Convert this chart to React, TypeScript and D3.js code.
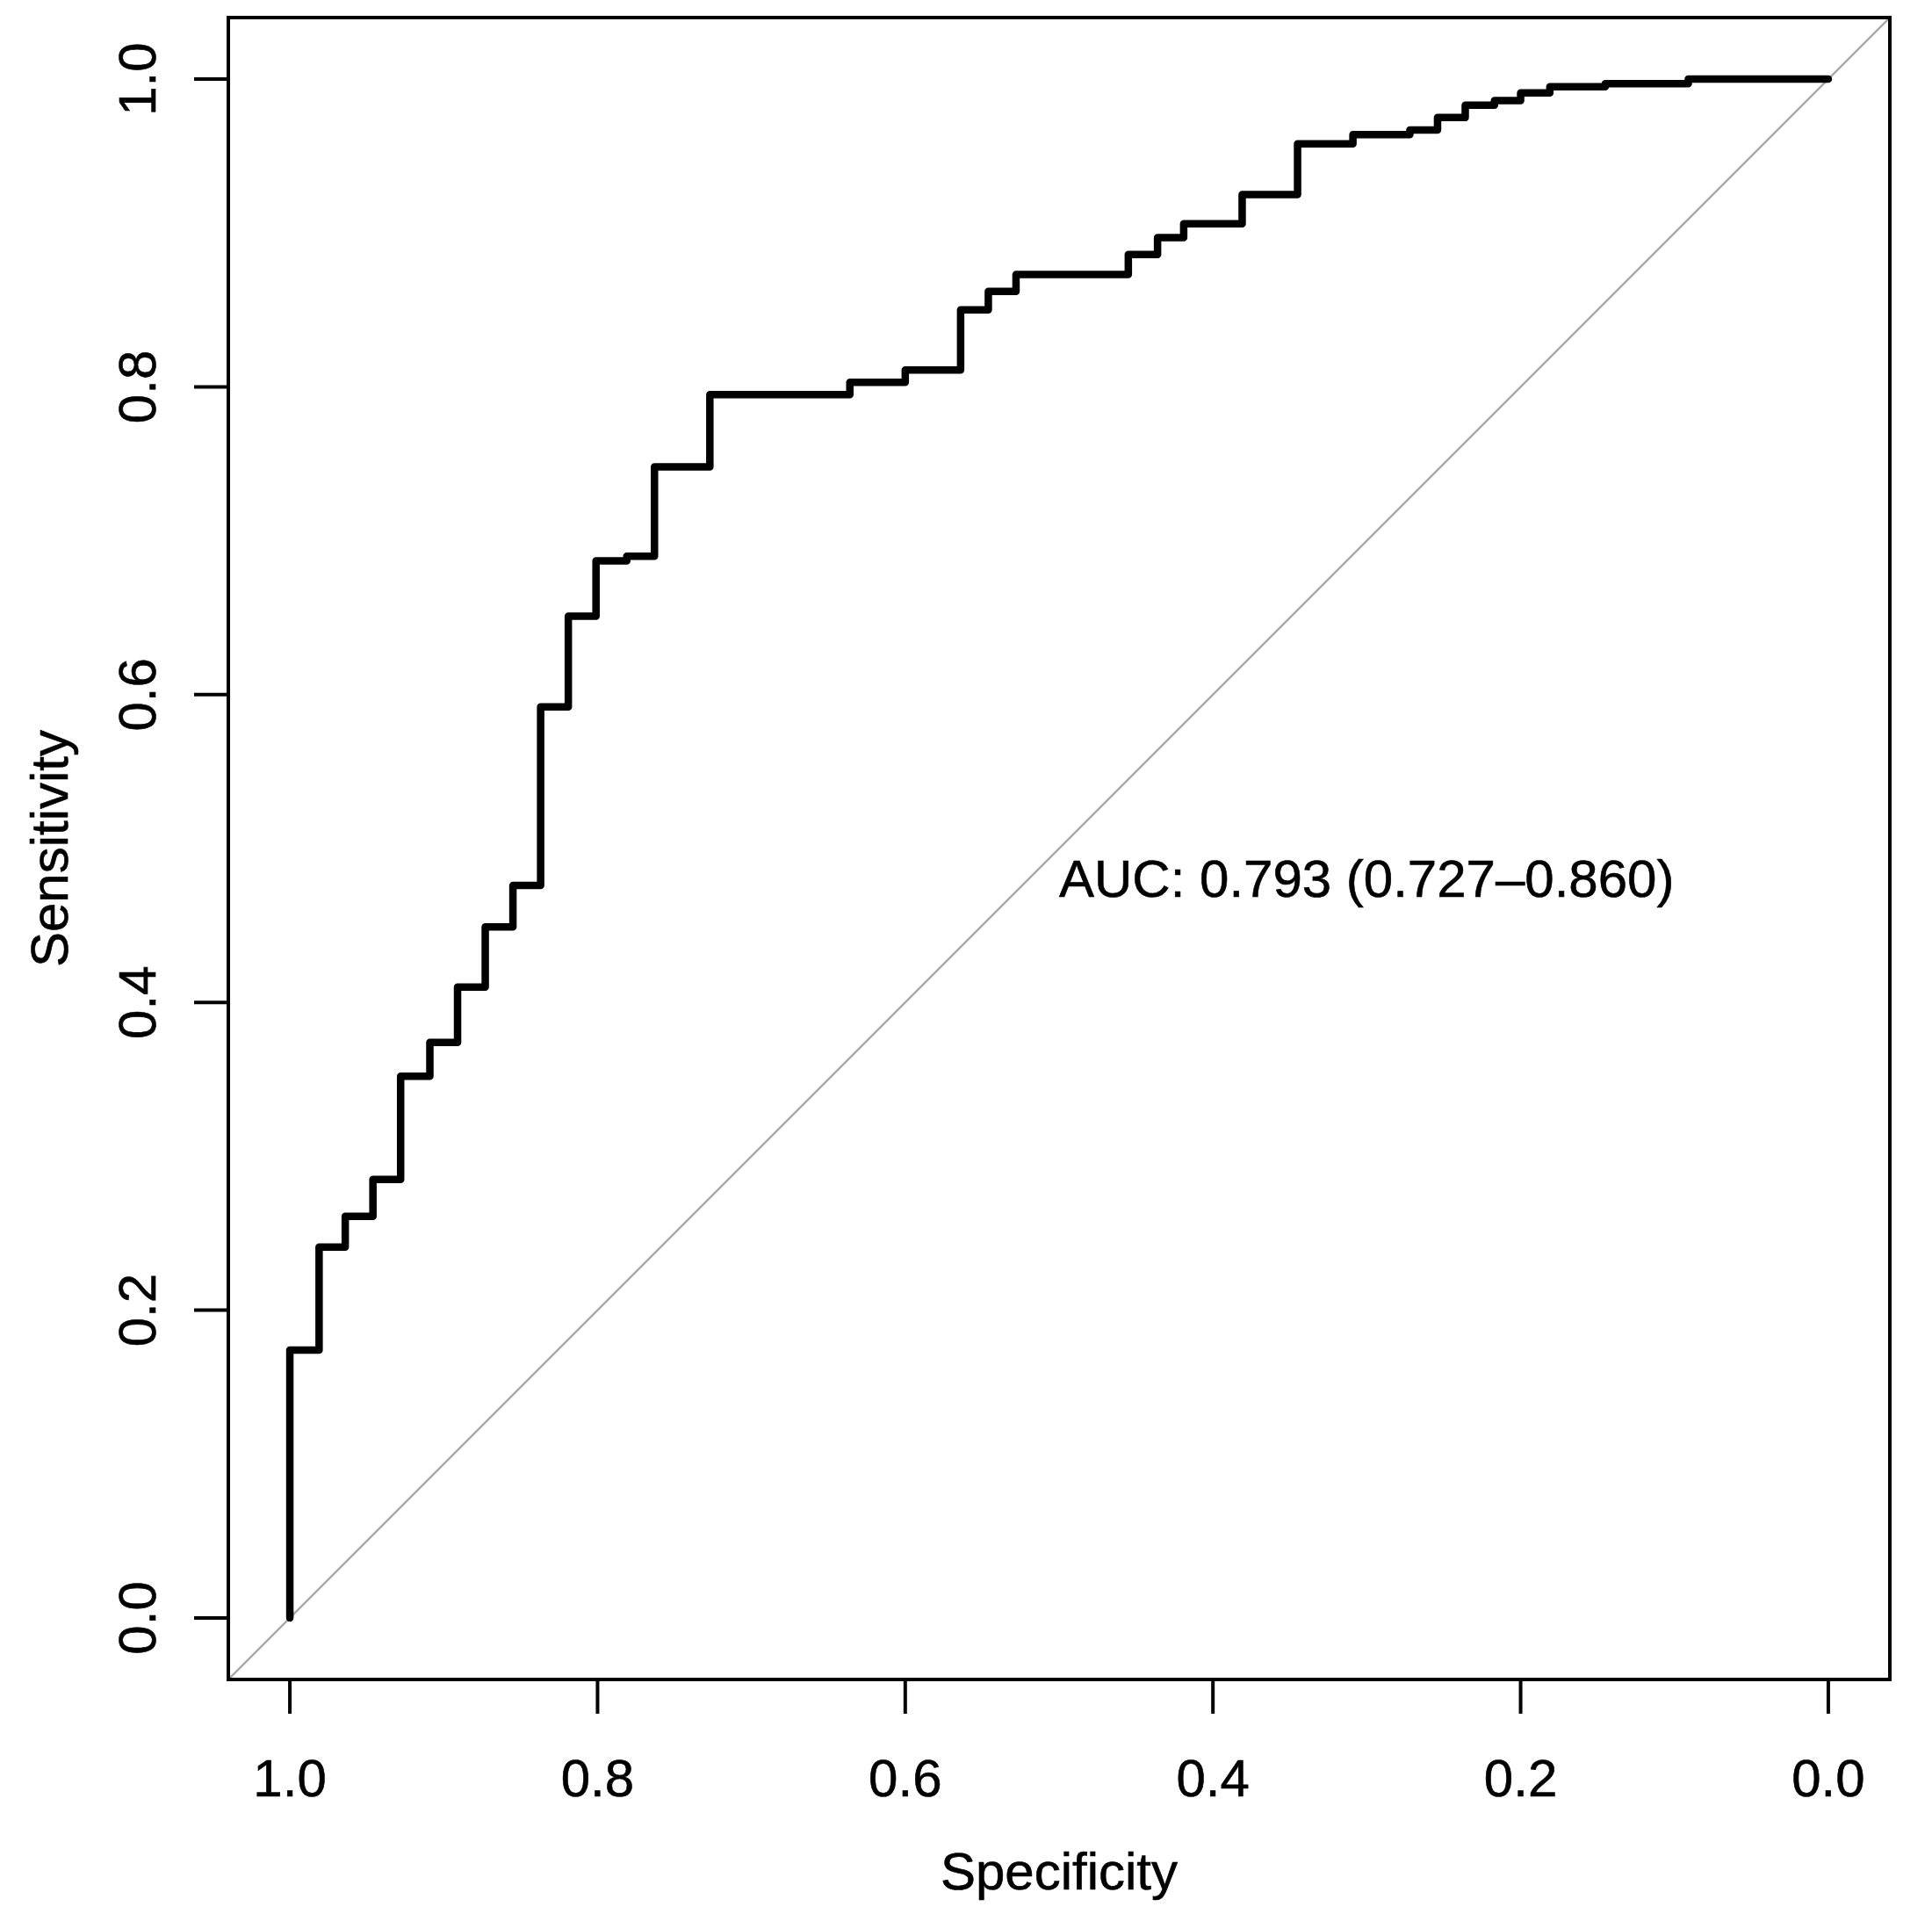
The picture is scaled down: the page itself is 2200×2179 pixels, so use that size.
import * as d3 from 'd3';

// ROC curve: at each specificity the sensitivity steps up to this value
const specificity = [
  1.0, 1.0, 0.981, 0.964, 0.946, 0.928, 0.909, 0.891, 0.873, 0.855, 0.837, 0.819, 0.801,
  0.781, 0.763, 0.727, 0.636, 0.6, 0.564, 0.546, 0.528, 0.455, 0.436, 0.419, 0.381, 0.345,
  0.309, 0.272, 0.254, 0.236, 0.217, 0.2, 0.181, 0.145, 0.091, 0.0,
];
const sensitivity = [
  0.0, 0.174, 0.241, 0.261, 0.285, 0.352, 0.374, 0.41, 0.449, 0.476, 0.592, 0.651, 0.687,
  0.69, 0.748, 0.795, 0.803, 0.811, 0.85, 0.862, 0.873, 0.886, 0.897, 0.906, 0.925, 0.958,
  0.964, 0.967, 0.975, 0.983, 0.986, 0.991, 0.995, 0.997, 1.0, 1.0,
];
const ticks = [1.0, 0.8, 0.6, 0.4, 0.2, 0.0];
const aucLabel = 'AUC: 0.793 (0.727\u20130.860)';

const W = 2200;
const H = 2179;
const box = { left: 260, right: 2152, top: 20, bottom: 1912 };
const FONT = '"Liberation Sans", Arial, Helvetica, sans-serif';
const FS = 60;

export default function App() {
  // R-style axes: 4% padding on each side, specificity reversed
  const x = d3.scaleLinear().domain([1.04, -0.04]).range([box.left, box.right]);
  const y = d3.scaleLinear().domain([-0.04, 1.04]).range([box.bottom, box.top]);
  const fmt = d3.format('.1f');

  const points: [number, number][] = specificity.map((s, i) => [s, sensitivity[i]]);
  const rocLine = d3
    .line<[number, number]>()
    .x((d) => x(d[0]))
    .y((d) => y(d[1]))
    .curve(d3.curveStepAfter);

  const midX = (box.left + box.right) / 2;
  const midY = (box.top + box.bottom) / 2;

  return (
    <svg
      width={W}
      height={H}
      viewBox={`0 0 ${W} ${H}`}
      style={{ position: 'absolute', left: 0, top: 0, background: '#fff' }}
      fontFamily={FONT}
    >
      <rect x={0} y={0} width={W} height={H} fill="#fff" />
      <defs>
        <clipPath id="plot-area">
          <rect x={box.left} y={box.top} width={box.right - box.left} height={box.bottom - box.top} />
        </clipPath>
      </defs>

      {/* chance diagonal */}
      <line
        x1={x(1.04)}
        y1={y(-0.04)}
        x2={x(-0.04)}
        y2={y(1.04)}
        stroke="#a9a9a9"
        strokeWidth={2.5}
        clipPath="url(#plot-area)"
      />

      {/* ROC curve */}
      <path
        d={rocLine(points) ?? ''}
        fill="none"
        stroke="#000"
        strokeWidth={8.5}
        strokeLinejoin="round"
        strokeLinecap="round"
      />

      {/* frame */}
      <rect
        x={box.left}
        y={box.top}
        width={box.right - box.left}
        height={box.bottom - box.top}
        fill="none"
        stroke="#000"
        strokeWidth={4}
      />

      {/* x axis */}
      {ticks.map((t) => (
        <g key={`x${t}`}>
          <line x1={x(t)} x2={x(t)} y1={box.bottom} y2={box.bottom + 39} stroke="#000" strokeWidth={4} />
          <text x={x(t)} y={2045} textAnchor="middle" fontSize={FS} fill="#000" stroke="#000" strokeWidth={0.6}>
            {fmt(t)}
          </text>
        </g>
      ))}

      {/* y axis */}
      {ticks.map((t) => (
        <g key={`y${t}`}>
          <line x1={box.left - 39} x2={box.left} y1={y(t)} y2={y(t)} stroke="#000" strokeWidth={4} />
          <text
            transform={`translate(177, ${y(t)}) rotate(-90)`}
            textAnchor="middle"
            fontSize={FS}
            fill="#000"
            stroke="#000"
            strokeWidth={0.6}
          >
            {fmt(t)}
          </text>
        </g>
      ))}

      {/* axis titles */}
      <text x={midX} y={2151} textAnchor="middle" fontSize={FS} fill="#000" stroke="#000" strokeWidth={0.6}>
        Specificity
      </text>
      <text
        transform={`translate(77, ${midY}) rotate(-90)`}
        textAnchor="middle"
        fontSize={FS}
        fill="#000"
        stroke="#000"
        strokeWidth={0.6}
      >
        Sensitivity
      </text>

      {/* AUC annotation */}
      <text x={x(0.5)} y={1021} fontSize={FS} fill="#000" stroke="#000" strokeWidth={0.6}>
        {aucLabel}
      </text>
    </svg>
  );
}
